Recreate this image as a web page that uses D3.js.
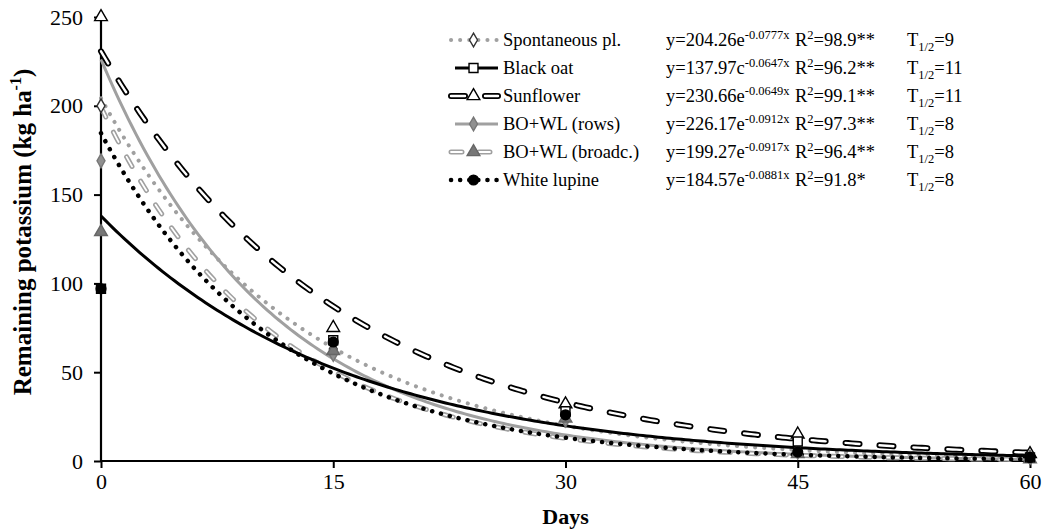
<!DOCTYPE html>
<html><head><meta charset="utf-8">
<script src="https://cdn.jsdelivr.net/npm/d3@7"></script>
<style>body{margin:0;background:#fff}svg{display:block}text{font-family:"Liberation Serif","Times New Roman",serif;fill:#000}</style>
</head><body>
<script>
// ---- data ----
const days = [0, 15, 30, 45, 60];
const seriesNames = ["Spontaneous pl.", "Black oat", "Sunflower", "BO+WL (rows)", "BO+WL (broadc.)", "White lupine"];
const spontaneous = [200, 63, 25, 6, 2];
const blackOat = [97, 68, 28, 11, 2];
const sunflower = [250, 75, 32, 15, 4];
const boWlRows = [169, 60, 23, 5, 2];
const boWlBroadc = [129, 62, 24, 4, 1];
const whiteLupine = [97, 67, 26, 5, 2];
const coefA = [204.26, 137.97, 230.66, 226.17, 199.27, 184.57];
const coefB = ["0.0777", "0.0647", "0.0649", "0.0912", "0.0917", "0.0881"];
const eqBase = ["e", "c", "e", "e", "e", "e"];
const r2 = ["98.9**", "96.2**", "99.1**", "97.3**", "96.4**", "91.8*"];
const tHalf = ["9", "11", "11", "8", "8", "8"];
const yTicks = [0, 50, 100, 150, 200, 250];
const xTicks = [0, 15, 30, 45, 60];

const values = [spontaneous, blackOat, sunflower, boWlRows, boWlBroadc, whiteLupine];

const W = 1047, H = 529;
const svg = d3.select("body").append("svg").attr("width", W).attr("height", H);
const x = d3.scaleLinear().domain([0, 60]).range([101, 1030]);
const y = d3.scaleLinear().domain([0, 250]).range([461, 17]);

const gray = "#a0a0a0";
const styles = [
  [{c: gray, w: 4, d: "0.1,9", cap: "round"}],
  [{c: "#000", w: 3, d: null, cap: "butt"}],
  [{c: "#000", w: 6, d: "14,20", cap: "round"}, {c: "#fff", w: 2.4, d: "14,20", cap: "round"}],
  [{c: gray, w: 3, d: null, cap: "butt"}],
  [{c: gray, w: 5, d: "11,17", cap: "round"}, {c: "#fff", w: 1.8, d: "11,17", cap: "round"}],
  [{c: "#000", w: 4.5, d: "0.1,9", cap: "round"}]
];
const markers = [
  {type: d3.symbolDiamond, size: 55, fill: "#fff", stroke: "#333"},
  {type: d3.symbolSquare, size: 80, fill: "#fff", stroke: "#000"},
  {type: d3.symbolTriangle, size: 70, fill: "#fff", stroke: "#000"},
  {type: d3.symbolDiamond, size: 55, fill: "#909090", stroke: "#777"},
  {type: d3.symbolTriangle, size: 70, fill: "#777", stroke: "#666"},
  {type: d3.symbolCircle, size: 75, fill: "#000", stroke: "#000"}
];

// axes
const yAxis = d3.axisLeft(y).tickValues(yTicks).tickSize(7).tickPadding(11);
const gy = svg.append("g").attr("transform", `translate(${x(0)},0)`).call(yAxis);
gy.select(".domain").attr("stroke-width", 2.2).attr("d", `M0,${y(0)}V${y(250)}`);
gy.selectAll(".tick line").attr("stroke-width", 2);
gy.selectAll("text").style("font-size", "22px").style("font-family", "Liberation Serif");

const xAxis = d3.axisBottom(x).tickValues(xTicks).tickSize(7).tickPadding(5);
const gx = svg.append("g").attr("transform", `translate(0,${y(0)})`).call(xAxis);
gx.select(".domain").attr("stroke-width", 2.2).attr("d", `M${x(0)},0H${x(60)}`);
gx.selectAll(".tick line").attr("stroke-width", 2);
gx.selectAll("text").style("font-size", "22px").style("font-family", "Liberation Serif");

// fitted curves from displayed equations
const xs = d3.range(0, 60.001, 0.25);
const line = d3.line().x(d => x(d[0])).y(d => y(d[1]));
const drawOrder = [3, 4, 0, 5, 1, 2];
drawOrder.forEach(i => {
  const pts = xs.map(t => [t, coefA[i] * Math.exp(-(+coefB[i]) * t)]);
  styles[i].forEach(s => {
    svg.append("path").attr("d", line(pts)).attr("fill", "none")
      .attr("stroke", s.c).attr("stroke-width", s.w)
      .attr("stroke-dasharray", s.d).attr("stroke-linecap", s.cap);
  });
});

// markers
const markerOrder = [2, 0, 3, 4, 1, 5];
markerOrder.forEach(i => {
  svg.append("g").selectAll("path").data(values[i].map((v, k) => [days[k], v])).join("path")
    .attr("transform", d => `translate(${x(d[0])},${y(d[1])})`)
    .attr("d", d3.symbol().type(markers[i].type).size(markers[i].size))
    .attr("fill", markers[i].fill).attr("stroke", markers[i].stroke).attr("stroke-width", 1.4);
});

// axis titles
svg.append("text").attr("x", x(30)).attr("y", 524).attr("text-anchor", "middle")
  .style("font-size", "22px").style("font-weight", "bold").text("Days");
const yl = svg.append("text").attr("transform", `translate(31,232) rotate(-90)`)
  .attr("text-anchor", "middle").style("font-size", "25px").style("font-weight", "bold");
yl.append("tspan").text("Remaining potassium (kg ha");
yl.append("tspan").attr("dy", -10).style("font-size", "16px").text("-1");
yl.append("tspan").attr("dy", 10).text(")");

// legend
const legX0 = 447, legX1 = 500, legY0 = 40, legDy = 28;
seriesNames.forEach((name, i) => {
  const yy = legY0 + i * legDy;
  const g = svg.append("g");
  styles[i].forEach(s => {
    g.append("path").attr("d", `M${legX0 + (s.d ? 4 : 8)},${yy}H${legX1 - 2}`).attr("fill", "none")
      .attr("stroke", s.c).attr("stroke-width", s.w)
      .attr("stroke-dasharray", s.d).attr("stroke-linecap", s.cap);
  });
  g.append("path").attr("transform", `translate(${(legX0 + legX1) / 2},${yy})`)
    .attr("d", d3.symbol().type(markers[i].type).size(markers[i].size))
    .attr("fill", markers[i].fill).attr("stroke", markers[i].stroke).attr("stroke-width", 1.4);
  g.append("text").attr("x", 503).attr("y", yy + 6).style("font-size", "18.5px").text(name);
  const eq = g.append("text").attr("x", 666).attr("y", yy + 6).style("font-size", "18.5px");
  eq.append("tspan").text(`y=${coefA[i].toFixed(2)}${eqBase[i]}`);
  eq.append("tspan").attr("dy", -7).style("font-size", "12.5px").text(`-${coefB[i]}x`);
  const rt = g.append("text").attr("x", 795).attr("y", yy + 6).style("font-size", "18.5px");
  rt.append("tspan").text("R");
  rt.append("tspan").attr("dy", -7).style("font-size", "12.5px").text("2");
  rt.append("tspan").attr("dy", 7).text(`=${r2[i]}`);
  const tt = g.append("text").attr("x", 907).attr("y", yy + 6).style("font-size", "18.5px");
  tt.append("tspan").text("T");
  tt.append("tspan").attr("dy", 5).style("font-size", "12.5px").text("1/2");
  tt.append("tspan").attr("dy", -5).text(`=${tHalf[i]}`);
});
</script>
</body></html>
